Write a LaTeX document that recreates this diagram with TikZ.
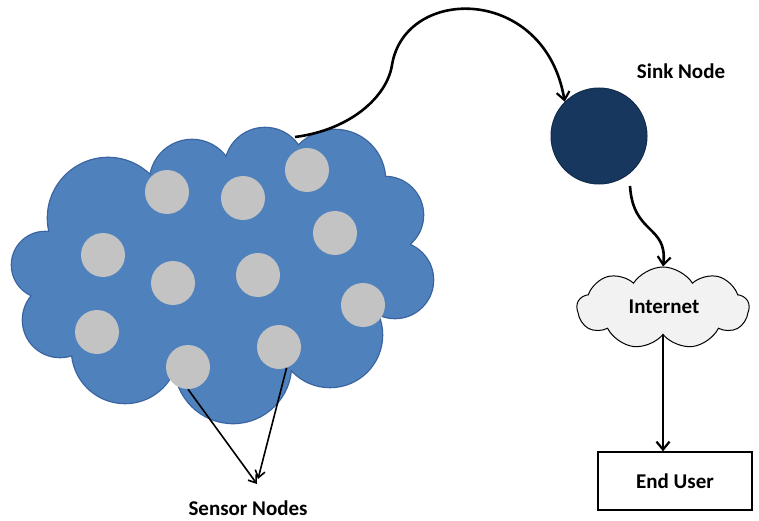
\documentclass[tikz,border=0pt]{standalone}
\usepackage{fontspec}
\setmainfont{Carlito}
\usetikzlibrary{arrows.meta,shapes.symbols}
\definecolor{cloudblue}{HTML}{4F81BD}
\definecolor{cloudedge}{HTML}{3A64A0}
\definecolor{sensorgray}{HTML}{C3C3C3}
\definecolor{sinkblue}{HTML}{17375E}
\definecolor{netgray}{HTML}{F2F2F2}
\tikzset{
  sensor/.style={circle,fill=sensorgray,minimum size=44pt,inner sep=0pt},
  lbl/.style={font=\fontsize{21}{24}\selectfont\bfseries,inner sep=0pt},
  conn/.style={draw=black,line width=2.6pt,-{Straight Barb[length=8pt,width=13pt,line width=2.2pt]}},
  thin conn/.style={draw=black,line width=1.6pt,-{Straight Barb[length=7pt,width=10pt,line width=1.6pt]}},
}
\begin{document}
\begin{tikzpicture}[x=1pt,y=-1pt]
\useasboundingbox (0,0) rectangle (759,521);
% big cloud: outline pass then fill pass
\def\cloudcircles{
  (45,265) circle (33)
  (108,218) circle (60)
  (192,182) circle (42)
  (265,168) circle (40)
  (335,180) circle (50)
  (385,215) circle (38)
  (395,280) circle (38)
  (330,335) circle (52)
  (233,365) circle (58)
  (125,350) circle (53)
  (60,320) circle (37)
}
\draw[cloudedge,line width=2.6pt] \cloudcircles;
\fill[cloudblue] \cloudcircles;
\fill[cloudblue] (225,275) ellipse (160 and 100);
% sensors
\node[sensor] (s1) at (167,192) {};
\node[sensor] (s2) at (243,198) {};
\node[sensor] (s3) at (307,170) {};
\node[sensor] (s4) at (335,233) {};
\node[sensor] (s5) at (103,255) {};
\node[sensor] (s6) at (173,283) {};
\node[sensor] (s7) at (258,275) {};
\node[sensor] (s8) at (363,305) {};
\node[sensor] (s9) at (97,332) {};
\node[sensor] (s10) at (188,367) {};
\node[sensor] (s11) at (279,347) {};
% sink
\node[circle,fill=sinkblue,draw=sinkblue!80!black,line width=1pt,minimum size=96pt,inner sep=0pt] (sink) at (599,136) {};
\node[lbl] (sinklbl) at (681,71) {Sink Node};
% internet cloud
\node[cloud,draw=black,fill=netgray,line width=1pt,cloud puffs=9,cloud puff arc=115,aspect=2.1,minimum width=172pt,minimum height=82pt,inner sep=0pt] (net) at (663,308) {};
\node[lbl] (netlbl) at (664,307) {Internet};
% end user
\node[draw=black,line width=1.3pt,minimum width=154pt,minimum height=58pt,inner sep=0pt] (user) at (675,481) {};
\node[lbl] at (user.center) {End User};
% sensor label
\node[lbl] (senslbl) at (248,508) {Sensor Nodes};
% connectors
\coordinate (cstart) at (295,137);
\draw[conn] (cstart) .. controls (350,130) and (387,97) .. (392,65)
  .. controls (405,-15) and (545,-15) .. (sink.135);
\coordinate (sstart) at (630,186);
\draw[conn] (sstart) .. controls (633,235) and (668,225) .. (net.north);
\draw[conn] (net.south) -- (net.south |- user.north);
\coordinate (arrA) at (257,484);
\coordinate (arrB) at (258,479);
\draw[thin conn] (s10.south) -- (arrA);
\draw[thin conn] (s11.-70) -- (arrB);
\end{tikzpicture}
\end{document}
